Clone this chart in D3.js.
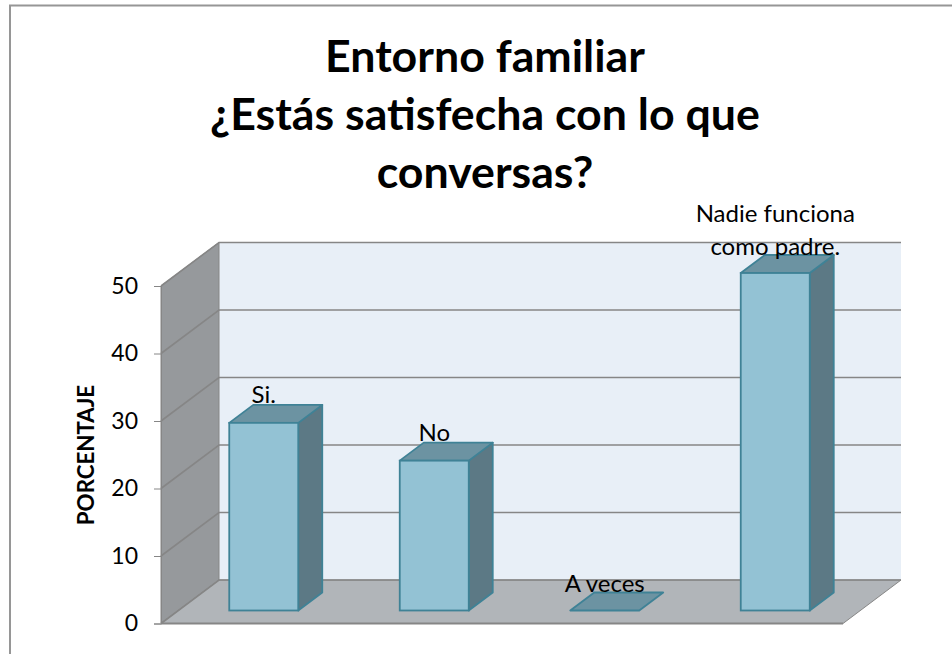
<!DOCTYPE html>
<html><head><meta charset="utf-8">
<script src="https://cdn.jsdelivr.net/npm/d3@7"></script>
<style>html,body{margin:0;padding:0;background:#fff}svg{display:block}text{font-family:Lato,"Open Sans",sans-serif;fill:#000}</style>
</head><body><svg id="c" width="952" height="654"></svg>
<script>
const categories = ["Si.", "No", "A veces", "Nadie funciona como padre."];
const values = [27.8, 22.2, 0, 50];
const yTicks = [0, 10, 20, 30, 40, 50];
const titleLines = ["Entorno familiar", "¿Estás satisfecha con lo que", "conversas?"];
const yAxisTitle = "PORCENTAJE";

const svg = d3.select("#c");
const y = d3.scaleLinear().domain([0, 50]).range([623.5, 286]);
const x = d3.scaleBand().domain(categories).range([161, 843]);
const depthX = 58, depthY = -43.5, barW = 69, barDX = 24, barDY = -18, baseDX = 17.5, baseDY = -13;
const gridCol = "#868686", barStroke = "#3f8296";
const poly = pts => pts.map(p => p.join(",")).join(" ");

svg.append("rect").attr("x", 10).attr("y", 5.5).attr("width", 960).attr("height", 670)
  .attr("fill", "#fff").attr("stroke", "#969696").attr("stroke-width", 2);

const x0 = x.range()[0], x1 = x.range()[1];
svg.append("polygon").attr("points", poly([[x0+depthX, y(50)+depthY],[x1+depthX, y(50)+depthY],[x1+depthX, y(0)+depthY],[x0+depthX, y(0)+depthY]])).attr("fill", "#e8eff7");
svg.append("polygon").attr("points", poly([[x0, y(0)],[x0+depthX, y(0)+depthY],[x0+depthX, y(50)+depthY],[x0, y(50)]])).attr("fill", "#96999c").attr("stroke", gridCol);
svg.append("polygon").attr("points", poly([[x0, y(0)],[x1, y(0)],[x1+depthX, y(0)+depthY],[x0+depthX, y(0)+depthY]])).attr("fill", "#b1b5b9").attr("stroke", gridCol);

const grid = svg.append("g").attr("fill", "none").attr("stroke", gridCol).attr("stroke-width", 1.6);
yTicks.forEach(t => {
  grid.append("polyline").attr("points", poly([[x0, y(t)],[x0+depthX, y(t)+depthY],[x1+depthX, y(t)+depthY]]));
});
svg.append("line").attr("x1", x0).attr("x2", x1).attr("y1", y(0)).attr("y2", y(0)).attr("stroke", gridCol).attr("stroke-width", 2);

const axis = d3.axisLeft(y).tickValues(yTicks).tickSize(7).tickPadding(16);
const ag = svg.append("g").attr("transform", `translate(${x0},0)`).call(axis);
ag.select(".domain").attr("stroke", gridCol);
ag.selectAll(".tick line").attr("stroke", gridCol);
ag.selectAll("text").style("font-size", "23px");

const bars = svg.append("g").selectAll("g").data(categories).join("g");
bars.each(function(c, i) {
  const g = d3.select(this);
  const l = x(c) + x.bandwidth()/2 - barW/2 + baseDX, r = l + barW;
  const b = y(0) + baseDY, t = b - (y(0) - y(values[i]));
  const s = {stroke: barStroke, w: 1.8};
  if (values[i] > 0) g.append("polygon").attr("points", poly([[r,b],[r+barDX,b+barDY],[r+barDX,t+barDY],[r,t]])).attr("fill", "#5c7985").attr("stroke", s.stroke).attr("stroke-width", s.w).attr("stroke-linejoin", "round");
  g.append("polygon").attr("points", poly([[l,t],[r,t],[r+barDX,t+barDY],[l+barDX,t+barDY]])).attr("fill", "#6c93a2").attr("stroke", s.stroke).attr("stroke-width", s.w).attr("stroke-linejoin", "round");
  if (values[i] > 0) g.append("rect").attr("x", l).attr("y", t).attr("width", barW).attr("height", b - t).attr("fill", "#93c2d4").attr("stroke", s.stroke).attr("stroke-width", s.w);
});

const labelLines = [["Si."], ["No"], ["A veces"], ["Nadie funciona", "como padre."]];
const labelBase = [[403], [441], [592], [222, 255]];
const labelG = svg.append("g").style("font-size", "24px").attr("text-anchor", "middle");
categories.forEach((c, i) => {
  labelLines[i].forEach((ln, j) => {
    labelG.append("text").attr("x", x(c) + x.bandwidth()/2 + baseDX).attr("y", labelBase[i][j]).text(ln);
  });
});

svg.append("text").attr("transform", "translate(94,455) rotate(-90)").attr("text-anchor", "middle")
  .style("font-size", "22.3px").style("font-weight", "700").text(yAxisTitle);

const ttl = svg.append("g").attr("text-anchor", "middle").style("font-size", "44.7px").style("font-weight", "700");
titleLines.forEach((ln, i) => ttl.append("text").attr("x", 485).attr("y", [72, 130, 188][i]).text(ln));
</script></body></html>
